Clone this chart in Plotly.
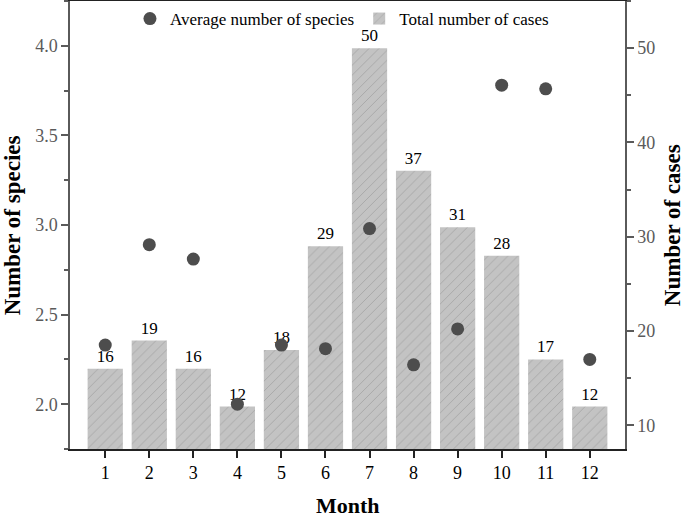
import plotly.graph_objects as go

months = [1, 2, 3, 4, 5, 6, 7, 8, 9, 10, 11, 12]
cases = [16, 19, 16, 12, 18, 29, 50, 37, 31, 28, 17, 12]
species = [2.33, 2.89, 2.81, 2.00, 2.33, 2.31, 2.98, 2.22, 2.42, 3.78, 3.76, 2.25]

FONT = "Liberation Serif, Times New Roman, serif"
AX = "#5a5a5a"

fig = go.Figure()
fig.add_trace(go.Bar(
    x=months, y=cases, name="Total number of cases", yaxis="y",
    width=0.8, text=[str(c) for c in cases], textposition="outside",
    textfont=dict(family=FONT, size=17, color="black"), cliponaxis=False,
    marker=dict(color="#c3c3c3", line=dict(width=0),
                pattern=dict(shape="/", fgcolor="#858585", bgcolor="#c3c3c3",
                             size=7, solidity=0.12)),
    legendrank=2,
))
fig.add_trace(go.Scatter(
    x=months, y=species, name="Average number of species", yaxis="y2",
    mode="markers", marker=dict(size=13, color="#4d4d4d"),
    legendrank=1,
))

fig.update_layout(
    width=685, height=518,
    margin=dict(l=70, r=60, t=1, b=69, autoexpand=False),
    plot_bgcolor="white", paper_bgcolor="white",
    font=dict(family=FONT, size=18, color=AX),
    showlegend=True,
    legend=dict(orientation="h", x=0.49, y=1.0, xanchor="center", yanchor="top",
                font=dict(family=FONT, size=17, color="black"),
                bgcolor="rgba(0,0,0,0)"),
    bargap=0.2,
    xaxis=dict(range=[0.2, 12.8], tickvals=months, ticks="outside", ticklen=7,
               tickwidth=1.5, tickcolor="#222", showline=True, linecolor="#222",
               linewidth=1.5, mirror=True, showgrid=False, zeroline=False,
               automargin=False,
               tickfont=dict(family=FONT, size=18, color="black")),
    yaxis=dict(side="right", range=[7.5, 55], tickvals=[10, 20, 30, 40, 50],
               ticks="outside", ticklen=7, tickwidth=1.5, tickcolor=AX,
               minor=dict(tickvals=[15, 25, 35, 45, 55], ticks="outside", ticklen=4, tickcolor=AX, tickwidth=1.5),
               showline=True, linecolor=AX, linewidth=1.5, showgrid=False, zeroline=False,
               automargin=False,
               tickfont=dict(family=FONT, size=18, color=AX)),
    yaxis2=dict(side="left", overlaying="y", range=[1.75, 4.25],
                tickvals=[2.0, 2.5, 3.0, 3.5, 4.0], tickformat=".1f",
                ticks="outside", ticklen=7, tickwidth=1.5, tickcolor=AX,
                minor=dict(tickvals=[1.75, 2.25, 2.75, 3.25, 3.75, 4.25], ticks="outside", ticklen=4, tickcolor=AX, tickwidth=1.5),
                showline=True, linecolor=AX, linewidth=1.5, showgrid=False, zeroline=False,
                automargin=False,
                tickfont=dict(family=FONT, size=18, color=AX)),
    annotations=[
        dict(text="<b>Month</b>", xref="paper", yref="paper", x=0.5, y=-0.127,
             xanchor="center", yanchor="middle", showarrow=False,
             font=dict(family=FONT, size=22, color="black")),
        dict(text="<b>Number of species</b>", xref="paper", yref="paper", x=-0.104, y=0.5,
             xanchor="center", yanchor="middle", textangle=-90, showarrow=False,
             font=dict(family=FONT, size=23, color="black")),
        dict(text="<b>Number of cases</b>", xref="paper", yref="paper", x=1.085, y=0.5,
             xanchor="center", yanchor="middle", textangle=-90, showarrow=False,
             font=dict(family=FONT, size=23, color="black")),
    ],
)

fig.write_html("out.html", config={"displayModeBar": False},
               post_script="document.body.style.margin='0';document.body.style.padding='0';document.body.style.overflow='hidden';")
